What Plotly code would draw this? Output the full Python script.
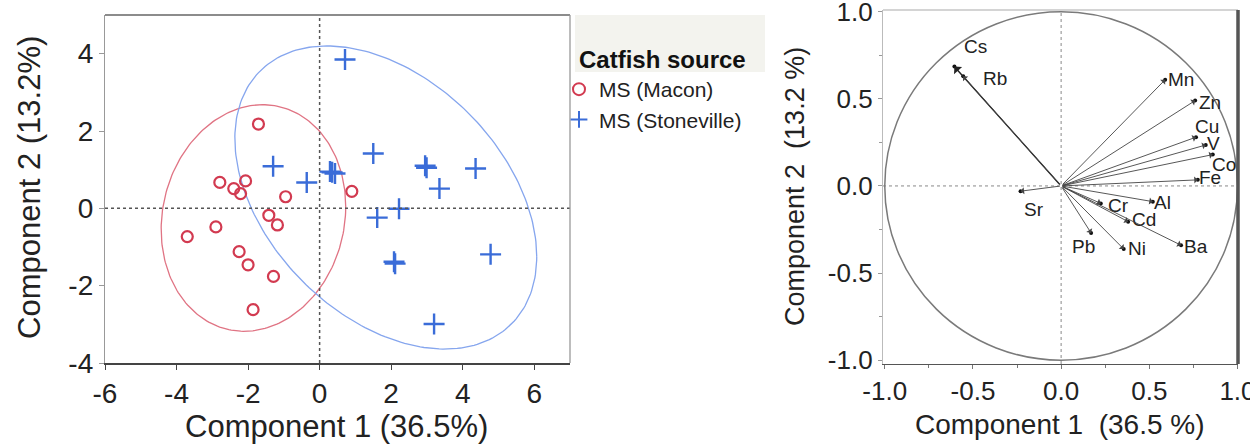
import numpy as np
import plotly.graph_objects as go

W, H = 1250, 444

# ---------------- data: PCA scores ----------------
macon_pc1 = [-1.71, -2.79, -2.07, -2.40, -2.21, -0.95, 0.90, -1.42, -1.18, -2.90,
             -3.70, -2.25, -2.00, -1.29, -1.86]
macon_pc2 = [2.18, 0.67, 0.71, 0.51, 0.38, 0.30, 0.44, -0.18, -0.43, -0.48,
             -0.73, -1.12, -1.46, -1.76, -2.62]

stone_pc1 = [0.71, -1.30, -0.36, 0.29, 0.43, 0.35, 1.50, 2.95, 2.99, 4.36,
             3.35, 2.22, 1.61, 2.08, 2.11, 4.78, 3.20]
stone_pc2 = [3.85, 1.09, 0.67, 0.95, 0.90, 0.93, 1.42, 1.10, 1.05, 1.03,
             0.51, -0.01, -0.24, -1.38, -1.43, -1.19, -2.99]

# density ellipses: centre, half-extent in x / y, correlation
macon_ell = dict(cx=-1.85, cy=-0.25, hw=2.58, hh=2.93, rho=0.10)
stone_ell = dict(cx=1.85, cy=0.28, hw=4.22, hh=3.92, rho=-0.39)

# ---------------- data: loadings ----------------
elements = ["Cs", "Rb", "Mn", "Zn", "Cu", "V", "Co", "Fe", "Al", "Cr", "Cd", "Ba", "Ni", "Pb", "Sr"]
load_pc1 = [-0.605, -0.555, 0.59, 0.76, 0.765, 0.82, 0.86, 0.775, 0.52, 0.225, 0.38, 0.68, 0.355, 0.17, -0.23]
load_pc2 = [0.685, 0.63, 0.61, 0.49, 0.28, 0.235, 0.18, 0.035, -0.09, -0.10, -0.205, -0.34, -0.362, -0.27, -0.03]

left_ticks = [-6, -4, -2, 0, 2, 4, 6]
left_yticks = [-4, -2, 0, 2, 4]
right_ticks = [-1.0, -0.5, 0.0, 0.5, 1.0]

# label offsets (pixels) for loading labels  -- style
label_dx = [21, 32, 16, 15, 11, 8, 11, 12, 10, 18, 16, 15, 13, -8, 13]
label_dy = [20, -2, 0, -2, 11, 2, -10, 2, -1, -2, 2, -1, 1, -14, -18]

RED = "#d23a50"
BLUE = "#3a6cd8"
RED_L = "#e07484"
BLUE_L = "#86a6ee"
FONT = "Liberation Sans, Arial, sans-serif"


def ellipse(p, n=240):
    t = np.linspace(0, 2 * np.pi, n)
    x = p["cx"] + p["hw"] * np.cos(t)
    y = p["cy"] + p["hh"] * (p["rho"] * np.cos(t) + np.sqrt(1 - p["rho"] ** 2) * np.sin(t))
    return x, y


fig = go.Figure()

ex, ey = ellipse(macon_ell)
fig.add_trace(go.Scatter(x=ex, y=ey, mode="lines", line=dict(color=RED_L, width=1.3),
                         showlegend=False, hoverinfo="skip", xaxis="x", yaxis="y"))
ex, ey = ellipse(stone_ell)
fig.add_trace(go.Scatter(x=ex, y=ey, mode="lines", line=dict(color=BLUE_L, width=1.3),
                         showlegend=False, hoverinfo="skip", xaxis="x", yaxis="y"))

fig.add_trace(go.Scatter(x=macon_pc1, y=macon_pc2, mode="markers", name="MS (Macon)",
                         marker=dict(symbol="circle-open", size=11, color=RED, line=dict(width=2.2, color=RED)),
                         xaxis="x", yaxis="y"))
fig.add_trace(go.Scatter(x=stone_pc1, y=stone_pc2, mode="markers", name="MS (Stoneville)",
                         marker=dict(symbol="cross-thin-open", size=15, color=BLUE, line=dict(width=2.4, color=BLUE)),
                         xaxis="x", yaxis="y"))

# loading tip dots
fig.add_trace(go.Scatter(x=load_pc1, y=load_pc2, mode="markers",
                         marker=dict(size=4, color="#111"), showlegend=False,
                         xaxis="x2", yaxis="y2", hoverinfo="text", text=elements))

annotations = []
for i, el in enumerate(elements):
    annotations.append(dict(x=load_pc1[i], y=load_pc2[i], ax=0, ay=0,
                            xref="x2", yref="y2", axref="x2", ayref="y2",
                            text="", showarrow=True, arrowhead=1, arrowsize=1.3,
                            arrowwidth=1.4 if el == "Cs" else 0.9,
                            arrowcolor="#222" if el == "Cs" else "#444"))
    annotations.append(dict(x=load_pc1[i], y=load_pc2[i], xref="x2", yref="y2",
                            text=el, showarrow=False, xshift=label_dx[i], yshift=label_dy[i],
                            xanchor="center", yanchor="middle",
                            font=dict(family=FONT, size=19, color="#222")))


def ptext(x, y, text, size, angle=0, anchor="center", bold=False):
    return dict(x=x / W, y=1 - y / H, xref="paper", yref="paper", text=text,
                showarrow=False, textangle=angle, xanchor=anchor, yanchor="middle",
                font=dict(family=FONT, size=size, color="#111" if bold else "#222"))


# axis titles and legend title
annotations += [
    ptext(336, 426, "Component 1 (36.5%)", 31),
    ptext(29, 188, "Component 2 (13.2%)", 31, angle=-90),
    ptext(1060, 424, "Component 1  (36.5 %)", 28),
    ptext(795, 187, "Component 2  (13.2 %)", 27, angle=-90),
    ptext(577, 60, "<b>Catfish source</b>", 24, anchor="left", bold=True),
]

shapes = [
    # legend title box
    dict(type="rect", xref="paper", yref="paper", x0=575 / W, x1=765 / W,
         y0=1 - 72 / H, y1=1 - 15 / H, fillcolor="#f3f3ee", line=dict(width=0), layer="below"),
    # left plot zero lines
    dict(type="line", xref="x", yref="y domain", x0=0, x1=0, y0=0, y1=1,
         line=dict(color="#555", width=1.5, dash="dot")),
    dict(type="line", xref="x domain", yref="y", x0=0, x1=1, y0=0, y1=0,
         line=dict(color="#555", width=1.5, dash="dot")),
    # right plot zero lines
    dict(type="line", xref="x2", yref="y2 domain", x0=0, x1=0, y0=0, y1=1,
         line=dict(color="#888", width=1, dash="dot")),
    dict(type="line", xref="x2 domain", yref="y2", x0=0, x1=1, y0=0, y1=0,
         line=dict(color="#888", width=1, dash="dot")),
    # unit circle
    dict(type="circle", xref="x2", yref="y2", x0=-1, x1=1, y0=-1, y1=1,
         line=dict(color="#7a7a7a", width=1.5)),
    # right plot borders
    dict(type="line", xref="x2 domain", yref="y2 domain", x0=0, x1=1, y0=1, y1=1,
         line=dict(color="#aaa", width=1.2)),
    dict(type="line", xref="x2 domain", yref="y2 domain", x0=1, x1=1, y0=0, y1=1,
         line=dict(color="#555", width=3.5)),
    # left plot top/right borders
    dict(type="line", xref="x domain", yref="y domain", x0=0, x1=1, y0=1, y1=1,
         line=dict(color="#666", width=1.3)),
    dict(type="line", xref="x domain", yref="y domain", x0=1, x1=1, y0=0, y1=1,
         line=dict(color="#999", width=1.3)),
]

tickfont_l = dict(family=FONT, size=28, color="#222")
tickfont_r = dict(family=FONT, size=26, color="#222")

fig.update_layout(
    width=W, height=H, margin=dict(l=0, r=0, t=0, b=0, autoexpand=False),
    paper_bgcolor="white", plot_bgcolor="white",
    xaxis=dict(domain=[105 / W, 570 / W], range=[-6, 7], tickvals=left_ticks,
               ticktext=[str(v) for v in left_ticks], showgrid=False, zeroline=False,
               showline=True, linecolor="#444", linewidth=1.6, ticks="outside", ticklen=5,
               tickcolor="#444", tickfont=tickfont_l, anchor="y", automargin=False,
               ticklabeloverflow="allow"),
    yaxis=dict(domain=[1 - 363 / H, 1 - 15 / H], range=[-4, 5], tickvals=left_yticks,
               ticktext=[str(v) for v in left_yticks], showgrid=False, zeroline=False,
               showline=True, linecolor="#999", linewidth=1.3, ticks="outside", ticklen=5,
               tickcolor="#999", tickfont=tickfont_l, anchor="x", automargin=False,
               ticklabeloverflow="allow"),
    xaxis2=dict(domain=[883 / W, 1238 / W], range=[-1.01, 1.003], tickvals=right_ticks,
                ticktext=["%.1f" % v for v in right_ticks], showgrid=False, zeroline=False,
                showline=True, linecolor="#555", linewidth=1.4, ticks="outside", ticklen=4,
                tickcolor="#777", tickfont=tickfont_r, anchor="y2", automargin=False,
                ticklabeloverflow="allow",
                minor=dict(tickvals=[-0.75, -0.25, 0.25, 0.75], ticks="outside", ticklen=3, tickcolor="#777")),
    yaxis2=dict(domain=[1 - 364 / H, 1 - 10 / H], range=[-1.022, 1.01], tickvals=right_ticks,
                ticktext=["%.1f" % v for v in right_ticks], showgrid=False, zeroline=False,
                showline=True, linecolor="#bbb", linewidth=1.3, ticks="outside", ticklen=4,
                tickcolor="#999", tickfont=tickfont_r, anchor="x2", automargin=False,
                ticklabeloverflow="allow",
                minor=dict(tickvals=[-0.75, -0.25, 0.25, 0.75], ticks="outside", ticklen=3, tickcolor="#999")),
    legend=dict(x=559 / W, y=1 - 69 / H, xanchor="left", yanchor="top",
                font=dict(family=FONT, size=21, color="#222"), bgcolor="rgba(0,0,0,0)",
                tracegroupgap=0, itemsizing="constant"),
    annotations=annotations,
    shapes=shapes,
)

fig.write_html("out.html")
